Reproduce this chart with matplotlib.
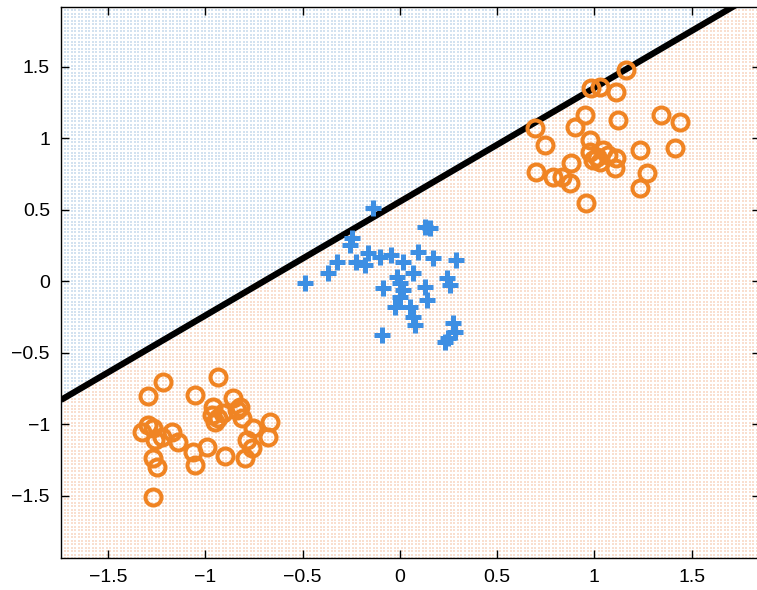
import numpy as np
import matplotlib.pyplot as plt

plt.rcParams['font.family'] = ['Liberation Sans', 'DejaVu Sans']

# --- dati ---
orange_x = [-1.216, -1.293, -0.934, -1.053, -0.959, -0.857, -0.822, -0.968, -0.934, -0.951,
            -0.908, -0.839, -0.814, -0.668, -0.677, -0.754, -0.788, -0.762, -0.797, -0.899,
            -0.993, -1.062, -1.053, -1.139, -1.173, -1.225, -1.259, -1.327, -1.293, -1.268,
            -1.268, -1.250, -1.268,
            1.165, 0.985, 1.028, 1.113, 0.694, 0.745, 0.951, 0.899, 1.122, 1.345,
            1.439, 1.413, 1.233, 0.976, 0.882, 0.702, 0.788, 0.831, 0.874, 1.268,
            1.233, 0.959, 0.976, 1.011, 1.045, 1.028, 1.070, 0.993, 1.113, 1.105]
orange_y = [-0.704, -0.804, -0.673, -0.797, -0.879, -0.820, -0.879, -0.937, -0.960, -0.984,
            -0.925, -0.902, -0.960, -0.984, -1.089, -1.030, -1.112, -1.170, -1.240, -1.224,
            -1.159, -1.194, -1.287, -1.124, -1.054, -1.089, -1.112, -1.054, -1.007, -1.030,
            -1.240, -1.299, -1.508,
            1.476, 1.348, 1.359, 1.324, 1.068, 0.951, 1.161, 1.079, 1.126, 1.161,
            1.114, 0.928, 0.916, 0.986, 0.823, 0.764, 0.729, 0.729, 0.683, 0.753,
            0.648, 0.543, 0.904, 0.869, 0.916, 0.834, 0.881, 0.846, 0.858, 0.788]

blue_x = [-0.137, 0.128, 0.154, -0.248, -0.257, -0.325, -0.368, -0.488, -0.223, -0.163,
          -0.180, -0.103, -0.043, 0.017, 0.094, 0.171, 0.291, 0.068, -0.017, 0.000,
          0.017, -0.086, 0.128, 0.137, 0.240, 0.257, -0.026, 0.051, 0.068, 0.077,
          -0.094, 0.274, 0.283, 0.248, 0.231, 0.000]
blue_y = [0.508, 0.380, 0.368, 0.298, 0.252, 0.135, 0.054, -0.016, 0.135, 0.194,
          0.112, 0.170, 0.182, 0.135, 0.205, 0.159, 0.147, 0.054, 0.030, -0.016,
          -0.063, -0.051, -0.040, -0.133, 0.019, -0.028, -0.180, -0.180, -0.250, -0.308,
          -0.378, -0.296, -0.354, -0.401, -0.424, -0.110]

# frontiera di decisione y = a*x + b
a_line = 0.796
b_line = 0.555

xlim = (-1.742, 1.852)
ylim = (-1.937, 1.916)

fig = plt.figure(figsize=(7.57, 5.90), dpi=100)
ax = fig.add_axes([0.0806, 0.0542, 0.9235, 0.9339])

# --- sfondo punteggiato delle regioni ---
gx, gy = np.meshgrid(np.linspace(xlim[0], xlim[1], 200), np.linspace(ylim[0], ylim[1], 160))
gx = gx.ravel()
gy = gy.ravel()
above = gy > a_line * gx + b_line
ax.scatter(gx[above], gy[above], s=0.6, marker='s', color='#d3e2f0', linewidths=0, zorder=0)
ax.scatter(gx[~above], gy[~above], s=0.6, marker='s', color='#f9dfcf', linewidths=0, zorder=0)

xl = np.array(xlim)
ax.plot(xl, a_line * xl + b_line, color='black', lw=4.5, zorder=2, solid_capstyle='butt')

ax.plot(orange_x, orange_y, 'o', ms=11.5, mfc='none', mec='#f08423', mew=2.9, zorder=3)
ax.plot(blue_x, blue_y, '+', ms=11, mec='#3d8fe3', mew=3.6, zorder=3)

ax.set_xlim(xlim)
ax.set_ylim(ylim)
ax.set_xticks([-1.5, -1, -0.5, 0, 0.5, 1, 1.5])
ax.set_xticklabels(['\u22121.5', '\u22121', '\u22120.5', '0', '0.5', '1', '1.5'])
ax.set_yticks([-1.5, -1, -0.5, 0, 0.5, 1, 1.5])
ax.set_yticklabels(['\u22121.5', '\u22121', '\u22120.5', '0', '0.5', '1', '1.5'])
ax.tick_params(direction='in', top=True, right=True, length=6, width=1, labelsize=14, pad=8)
for s in ax.spines.values():
    s.set_linewidth(1)

fig.savefig('out.png', dpi=100)
